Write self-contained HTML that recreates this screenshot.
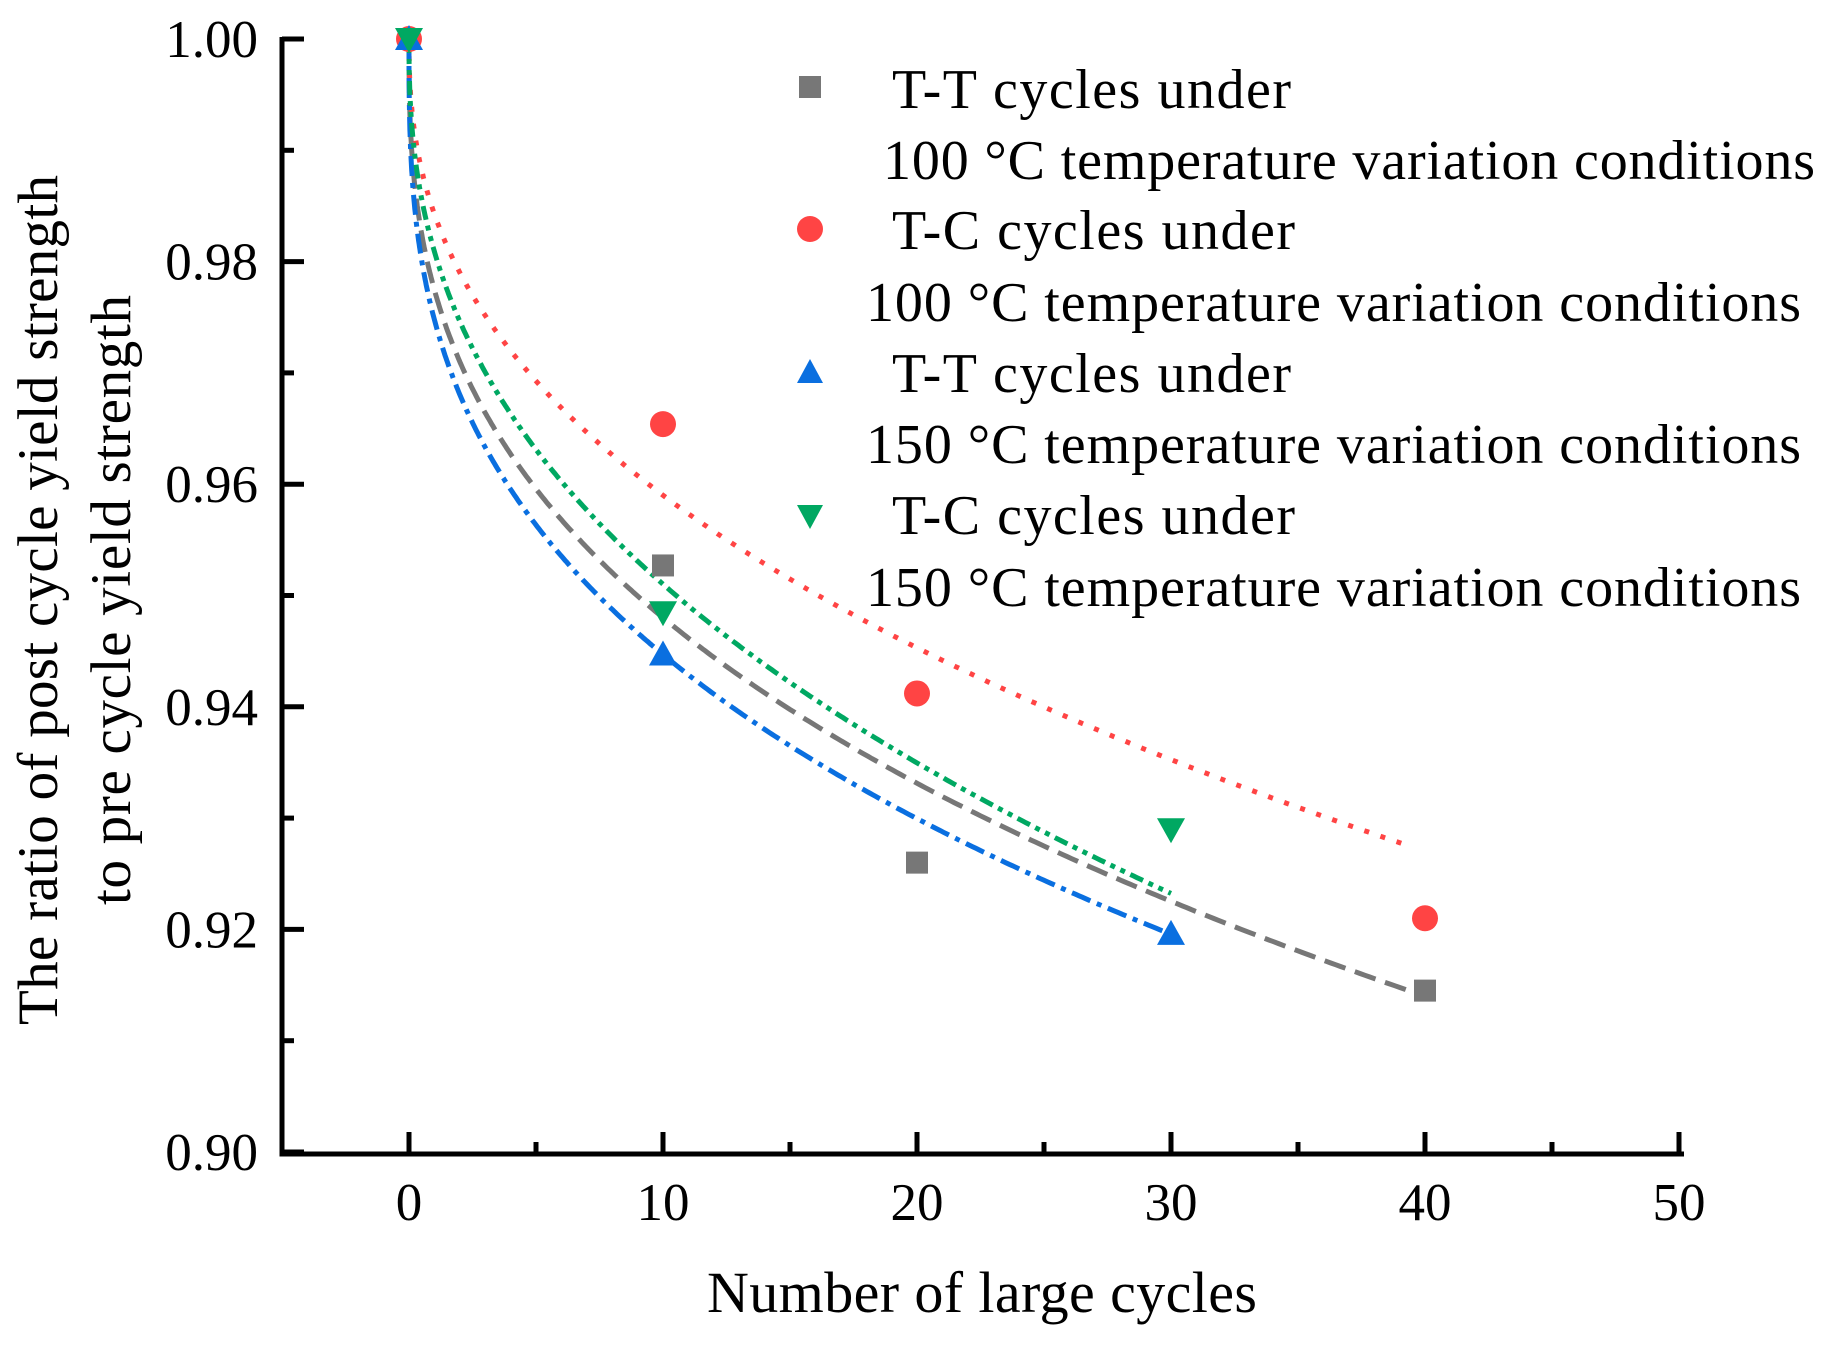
<!DOCTYPE html>
<html><head><meta charset="utf-8"><style>
html,body{margin:0;padding:0;background:#fff}
svg{display:block}
text{font-family:"Liberation Serif",serif;fill:#000}
</style></head><body>
<svg id="s" width="1842" height="1349" xmlns="http://www.w3.org/2000/svg">
<g id="curves"></g>
<g stroke="#000" stroke-width="5" fill="none" id="axes">
<path d="M282,37 V1154 H1684"/>
</g>
<g font-size="53" text-anchor="end" id="ylab"></g>
<g font-size="53" text-anchor="middle" id="xlab"></g>
<text x="982" y="1312" font-size="58" text-anchor="middle" textLength="550">Number of large cycles</text>
<text transform="translate(57,600) rotate(-90)" font-size="57" text-anchor="middle" textLength="850">The ratio of post cycle yield strength</text>
<text transform="translate(130,600) rotate(-90)" font-size="57" text-anchor="middle" textLength="610">to pre cycle yield strength</text>
<g id="markers"></g>
<g font-size="56">
<rect x="799" y="76" width="22" height="22" fill="#777"/>
<text x="892" y="108" textLength="399">T-T cycles under</text>
<text x="883" y="179" textLength="932">100 °C temperature variation conditions</text>
<circle cx="810" cy="229" r="13" fill="#f44"/>
<text x="892" y="249" textLength="403">T-C cycles under</text>
<text x="866" y="321" textLength="935">100 °C temperature variation conditions</text>
<polygon points="810,359 797,383 823,383" fill="#0a6fe0"/>
<text x="892" y="392" textLength="399">T-T cycles under</text>
<text x="866" y="463" textLength="935">150 °C temperature variation conditions</text>
<polygon points="797,505 823,505 810,529" fill="#00a862"/>
<text x="892" y="534" textLength="403">T-C cycles under</text>
<text x="866" y="606" textLength="935">150 °C temperature variation conditions</text>
</g>
</svg>
<script>
var NS="http://www.w3.org/2000/svg";
function X(v){return 409+25.4*v}
function Y(r){return 39+(1-r)*11130}
function el(p,t,a,txt){var e=document.createElementNS(NS,t);for(var k in a)e.setAttribute(k,a[k]);if(txt!=null)e.textContent=txt;document.getElementById(p).appendChild(e);return e}
for(var i=0;i<=10;i++){var y=Y(0.90+i*0.01);var L=i%2==0?22:12;el('axes','line',{x1:282,x2:282+L,y1:y,y2:y});
 if(i%2==0)el('ylab','text',{x:258,y:y+18},(0.90+i*0.01).toFixed(2));}
for(var v=0;v<=50;v+=5){var x=X(v);var L=v%10==0?22:12;el('axes','line',{x1:x,x2:x,y1:1154,y2:1154-L});
 if(v%10==0)el('xlab','text',{x:x,y:1220},v);}
function curve(k,c,xe,col,dash){var d="";for(var i=0;i<=400;i++){var v=xe*Math.pow(i/400,2);var r=1-k*Math.pow(v,c);d+=(i?"L":"M")+X(v).toFixed(1)+","+Y(r).toFixed(1)}
 el('curves','path',{d:d,fill:"none",stroke:col,"stroke-width":5,"stroke-dasharray":dash,"stroke-linecap":"butt"});}
curve(0.02254,0.363,40,"#777","22 10");
curve(0.01573,0.416,39.5,"#f44","5 12");
curve(0.02522,0.341,30,"#0a6fe0","20 7 5 7");
curve(0.0191,0.409,30,"#00a862","14 6 5 6 5 6");
function sq(v,r){el('markers','rect',{x:X(v)-11,y:Y(r)-11,width:22,height:22,fill:"#777"})}
function ci(v,r){el('markers','circle',{cx:X(v),cy:Y(r),r:13,fill:"#f44"})}
function up(v,r){var x=X(v),y=Y(r);el('markers','polygon',{points:(x)+","+(y-14)+" "+(x-14)+","+(y+11)+" "+(x+14)+","+(y+11),fill:"#0a6fe0"})}
function dn(v,r){var x=X(v),y=Y(r);el('markers','polygon',{points:(x-14)+","+(y-11)+" "+(x+14)+","+(y-11)+" "+(x)+","+(y+14),fill:"#00a862"})}
sq(0,1);sq(10,0.9527);sq(20,0.926);sq(40,0.9145);
ci(0,1);ci(10,0.9654);ci(20,0.9412);ci(40,0.921);
up(0,1);up(10,0.9447);up(30,0.9196);
dn(0,1);dn(10,0.9485);dn(30,0.929);
</script>
</body></html>
